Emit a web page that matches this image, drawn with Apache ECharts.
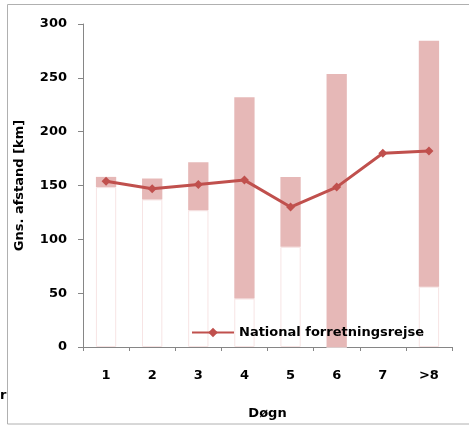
<!DOCTYPE html>
<html><head><meta charset="utf-8">
<script src="https://cdn.jsdelivr.net/npm/echarts@6/dist/echarts.min.js"></script>
<style>html,body{margin:0;padding:0;background:#fff}#c{width:469px;height:425px}</style>
</head><body><div id="c"></div>
<script>
const categories = ['1','2','3','4','5','6','7','>8'];
const rangeLow  = [148.5, 137, 127, 45, 93, 0, null, 56];
const rangeHigh = [158, 156.5, 171.5, 232, 158, 253.5, null, 284.5];
const avgDistance = [154, 147, 151, 155, 130, 148.5, 180, 182];
const yTicks = [0, 50, 100, 150, 200, 250, 300];
const seriesName = 'National forretningsrejse';

const font = 'DejaVu Sans';
const baseData = rangeLow.map(v => v == null ? '-' : v);
const spanData = rangeHigh.map((h, i) => h == null ? '-' : h - rangeLow[i]);

const chart = echarts.init(document.getElementById('c'), null, {renderer: 'canvas'});
chart.setOption({
  animation: false,
  grid: {left: 83, right: 17, top: 24, bottom: 77},
  legend: {
    data: [seriesName], left: 186, top: 321, itemWidth: 42, itemHeight: 12, itemGap: 2,
    textStyle: {fontFamily: font, fontWeight: 'bold', fontSize: 13, color: '#000'}
  },
  xAxis: {
    type: 'category', data: categories, boundaryGap: true,
    name: 'Døgn', nameLocation: 'middle', nameGap: 60,
    nameTextStyle: {fontFamily: font, fontWeight: 'bold', fontSize: 13, color: '#000'},
    axisLine: {lineStyle: {color: '#868686', width: 1}},
    axisTick: {show: true, alignWithLabel: false, length: 4, lineStyle: {color: '#868686'}},
    axisLabel: {fontFamily: font, fontWeight: 'bold', fontSize: 13, color: '#000', margin: 22}
  },
  yAxis: {
    type: 'value', min: 0, max: 300, interval: 50,
    name: 'Gns. afstand [km]', nameLocation: 'middle', nameGap: 57, nameRotate: 90,
    nameTextStyle: {fontFamily: font, fontWeight: 'bold', fontSize: 13, color: '#000'},
    axisLine: {show: true, lineStyle: {color: '#868686', width: 1}},
    axisTick: {show: true, length: 5, lineStyle: {color: '#868686'}},
    splitLine: {show: false},
    axisLabel: {fontFamily: font, fontWeight: 'bold', fontSize: 13, color: '#000', margin: 16,
      formatter: v => yTicks.includes(v) ? String(v) : ''}
  },
  series: [
    {type: 'bar', stack: 'r', data: baseData, barWidth: '44%', silent: true,
     itemStyle: {color: '#ffffff', borderColor: '#f7e4e4', borderWidth: 1}},
    {type: 'bar', stack: 'r', data: spanData, barWidth: '44%', silent: true,
     itemStyle: {color: '#e6b8b7'}},
    {type: 'line', name: seriesName, data: avgDistance, symbol: 'diamond', symbolSize: 9,
     lineStyle: {color: '#c0504d', width: 3}, itemStyle: {color: '#c0504d'}, z: 5}
  ],
  graphic: [
    {type: 'rect', shape: {x: 7.5, y: 4.5, width: 470, height: 419.5}, silent: true,
     style: {fill: null, stroke: '#b0b0b0', lineWidth: 1}},
    {type: 'text', left: 0, top: 389, style: {text: 'r', fontFamily: font, fontWeight: 'bold', fontSize: 13, fill: '#000'}}
  ]
});
</script></body></html>
